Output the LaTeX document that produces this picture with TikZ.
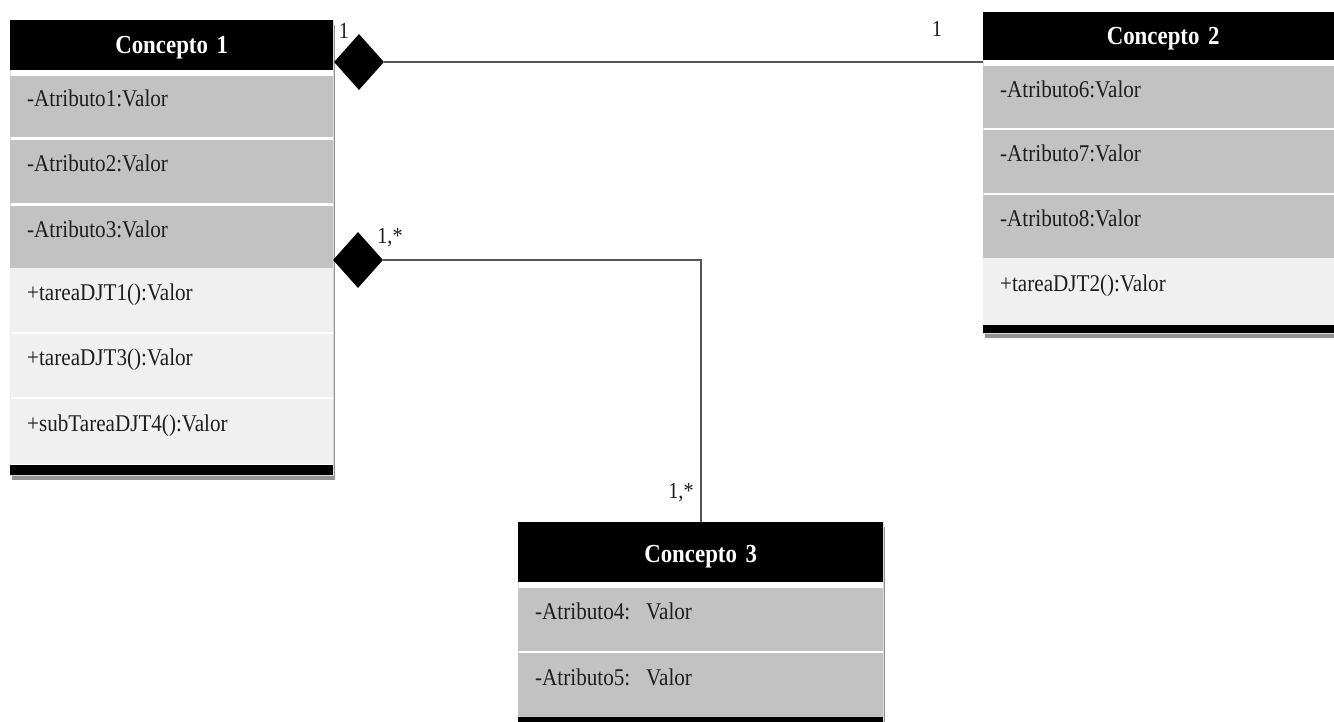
\documentclass[tikz,border=0pt]{standalone}
\usepackage{fontspec}
\setmainfont[FakeStretch=0.88]{Liberation Serif}
\usetikzlibrary{shapes.geometric,shadows}
\definecolor{rowgrey}{RGB}{194,194,194}
\definecolor{rowlight}{RGB}{240,240,240}
\definecolor{txt}{RGB}{30,30,30}
\definecolor{linecol}{RGB}{85,85,85}
\tikzset{
  frame/.style={anchor=north west, fill=white, draw=black!15, line width=0.8pt, inner sep=0pt,
    drop shadow={shadow xshift=1.5pt, shadow yshift=-5pt, opacity=0.6, fill=black!70}},
  hdr/.style={anchor=north west, fill=black, text=white, inner xsep=17pt, inner ysep=0pt,
    align=center, text height=17pt, text depth=0pt, font=\bfseries\fontsize{26}{28}\selectfont},
  row/.style={anchor=north west, inner xsep=17pt, inner ysep=0pt, align=left,
    text height=8pt, text depth=8pt, text=txt, font=\fontsize{24}{26}\selectfont},
  grey/.style={row, fill=rowgrey},
  light/.style={row, fill=rowlight},
  bar/.style={anchor=north west, fill=black, inner sep=0pt},
  comp/.style={diamond, fill=black, inner sep=0pt, minimum width=50pt, minimum height=56pt},
  assoc/.style={draw=linecol, line width=1.6pt},
  mult/.style={inner sep=1pt, text=txt, font=\fontsize{23}{25}\selectfont}
}
\begin{document}
\begin{tikzpicture}[x=1pt,y=-1pt]
\useasboundingbox[fill=white] (0,0) rectangle (1334,722);

% ---------- Concepto 1 ----------
\begin{scope}[every node/.append style={minimum width=323pt, text width=289pt}]
\node[frame, minimum height=455pt] (c1f) at (10,20) {};
\node[hdr, minimum height=50pt] (c1h) at (10,20) {Concepto 1};
\node[grey, minimum height=61pt] (c1a) at (10,76) {-Atributo1:Valor};
\node[grey, minimum height=63pt] (c1b) at (10,140) {-Atributo2:Valor};
\node[grey, minimum height=62pt] (c1c) at (10,206) {-Atributo3:Valor};
\node[light, minimum height=64pt] (c1d) at (10,268) {+tareaDJT1():Valor};
\node[light, minimum height=63pt] (c1e) at (10,334) {+tareaDJT3():Valor};
\node[light, minimum height=65pt] (c1g) at (10,399) {+subTareaDJT4():Valor};
\node[bar, minimum height=10pt] (c1z) at (10,465) {};
\end{scope}

% ---------- Concepto 2 ----------
\begin{scope}[every node/.append style={minimum width=360pt, text width=326pt}]
\node[frame, minimum height=321pt] (c2f) at (983,12) {};
\node[hdr, minimum height=48pt] (c2h) at (983,12) {Concepto 2};
\node[grey, minimum height=62pt] (c2a) at (983,66) {-Atributo6:Valor};
\node[grey, minimum height=63pt] (c2b) at (983,130) {-Atributo7:Valor};
\node[grey, minimum height=63pt] (c2c) at (983,195) {-Atributo8:Valor};
\node[light, minimum height=67pt] (c2d) at (983,258) {+tareaDJT2():Valor};
\node[bar, minimum height=8pt] (c2z) at (983,325) {};
\end{scope}

% ---------- Concepto 3 ----------
\begin{scope}[every node/.append style={minimum width=365pt, text width=331pt}]
\node[frame, minimum height=210pt] (c3f) at (518,522) {};
\node[hdr, minimum height=60pt, text height=20pt] (c3h) at (518,522) {Concepto 3};
\node[grey, minimum height=63pt] (c3a) at (518,588) {-Atributo4:\ \ Valor};
\node[grey, minimum height=64pt] (c3b) at (518,653) {-Atributo5:\ \ Valor};
\node[bar, minimum height=12pt] (c3z) at (518,717) {};
\end{scope}

% ---------- compositions ----------
\node[comp] (d1) at (359,62) {};
\node[comp] (d2) at (358,260) {};
\draw[assoc] (d1.east) -- (d1.east -| c2h.west);
\draw[assoc] (d2.east) -| (c3h.north);

% ---------- multiplicities ----------
\node[mult] (m1) at (344,31) {1};
\node[mult] (m2) at (937,29) {1};
\node[mult] (m3) at (390,238) {1,*};
\node[mult] (m4) at (681,493) {1,*};
\end{tikzpicture}
\end{document}
